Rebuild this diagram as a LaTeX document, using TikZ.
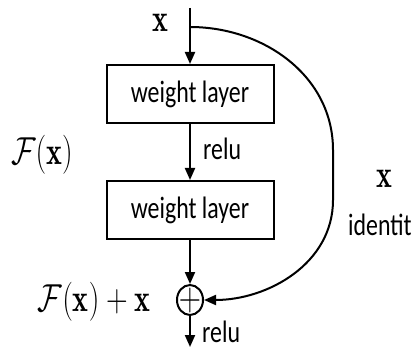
\RequirePackage{fix-cm}
\documentclass[tikz,border=0pt]{standalone}
\usepackage{fontspec}
\usepackage{amsmath,amssymb}
\usepackage{graphicx}
\newfontfamily\carlito{Carlito}
\usetikzlibrary{arrows.meta,positioning,shapes.geometric}
\newcommand{\sq}[1]{\scalebox{0.77}[1]{#1}}

\begin{document}
\begin{tikzpicture}[
  x=1pt, y=1pt,
  node distance=56pt,
  layer/.style={draw, line width=2pt, minimum width=167pt, minimum height=58pt, inner sep=0pt, font=\carlito\fontsize{31}{36}\selectfont},
  sumnode/.style={draw, ellipse, line width=2pt, minimum width=26pt, minimum height=30pt, inner sep=-4pt, font=\fontsize{40}{44}\selectfont},
  lbl/.style={inner sep=0pt, font=\carlito\fontsize{31}{36}\selectfont},
  mth/.style={inner sep=0pt, font=\fontsize{39}{44}\selectfont},
  arr/.style={-{Triangle[length=12pt,width=10pt]}, line width=2pt}
]
\useasboundingbox (0,0) rectangle (417,351);
\coordinate (in) at (190,343);
\coordinate (split) at (190,324);
\node[layer] (w1) at (190,257) {\sq{weight layer}};
\node[layer, below=of w1] (w2) {\sq{weight layer}};
\node[sumnode, below=44pt of w2] (sum) {\sq{$+$}};
\coordinate (out) at (190,4);
\coordinate (rt) at (333,201);
\coordinate (rb) at (333,151);
\node[mth] (xin) at (160,328) {\sq{$\mathbf{x}$}};
\node[mth] (fx) at (42,196) {\sq{$\mathcal{F}(\mathbf{x})$}};
\node[lbl, anchor=west] (relu1) at (203,202.5) {\sq{relu}};
\node[mth] (fxx) at (94,49) {\sq{$\mathcal{F}(\mathbf{x})+\mathbf{x}$}};
\node[lbl, anchor=west] (relu2) at (202,19.5) {\sq{relu}};
\node[mth] (xid) at (384,172) {\sq{$\mathbf{x}$}};
\node[lbl, anchor=west] (idt) at (348,126.5) {\sq{identit}};
\draw[arr] (in) -- (w1);
\draw[arr] (w1) -- (w2);
\draw[arr] (w2) -- (sum);
\draw[arr] (sum) -- (out);
\draw[arr] (split) to[out=0,in=90] (rt) -- (rb) to[out=-90,in=0] (sum.east);
\end{tikzpicture}
\end{document}
